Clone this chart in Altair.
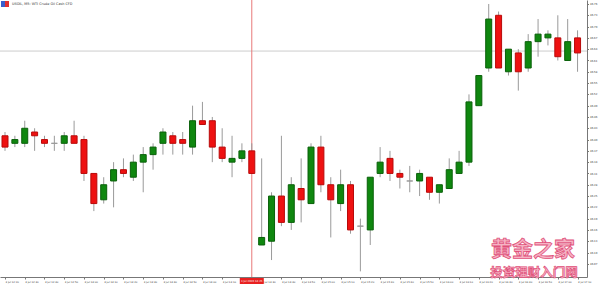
import altair as alt
import pandas as pd

# ---- data (USOIL M5 candles) ----
opens  = [46.41, 46.39, 46.39, 46.42, 46.40, 46.39, 46.39, 46.41, 46.40, 46.31,
          46.24, 46.29, 46.32, 46.30, 46.34, 46.36, 46.39, 46.41, 46.40, 46.38,
          46.45, 46.45, 46.38, 46.34, 46.35, 46.37, 46.12, 46.13, 46.25, 46.18,
          46.27, 46.23, 46.38, 46.28, 46.23, 46.28, 46.17, 46.16, 46.31, 46.35,
          46.31, 46.29, 46.29, 46.30, 46.26, 46.27, 46.31, 46.34, 46.49, 46.59,
          46.73, 46.58, 46.63, 46.59, 46.66, 46.67, 46.67, 46.61, 46.67]
highs  = [46.42, 46.41, 46.45, 46.43, 46.41, 46.41, 46.42, 46.45, 46.41, 46.31,
          46.30, 46.34, 46.35, 46.36, 46.38, 46.39, 46.43, 46.42, 46.42, 46.49,
          46.50, 46.46, 46.43, 46.41, 46.39, 46.39, 46.35, 46.26, 46.41, 46.30,
          46.35, 46.39, 46.41, 46.30, 46.32, 46.29, 46.19, 46.30, 46.38, 46.37,
          46.32, 46.33, 46.32, 46.30, 46.28, 46.35, 46.37, 46.52, 46.57, 46.76,
          46.74, 46.64, 46.64, 46.68, 46.72, 46.69, 46.73, 46.72, 46.69]
lows   = [46.37, 46.38, 46.38, 46.37, 46.38, 46.37, 46.37, 46.39, 46.29, 46.21,
          46.23, 46.22, 46.30, 46.29, 46.26, 46.32, 46.36, 46.36, 46.36, 46.36,
          46.44, 46.34, 46.34, 46.30, 46.34, 46.31, 46.12, 46.08, 46.17, 46.16,
          46.18, 46.23, 46.26, 46.14, 46.21, 46.15, 46.05, 46.12, 46.30, 46.29,
          46.27, 46.26, 46.25, 46.24, 46.23, 46.27, 46.31, 46.33, 46.49, 46.58,
          46.59, 46.57, 46.53, 46.58, 46.62, 46.65, 46.61, 46.61, 46.58]
closes = [46.38, 46.40, 46.43, 46.41, 46.39, 46.39, 46.41, 46.39, 46.31, 46.23,
          46.28, 46.32, 46.31, 46.34, 46.36, 46.38, 46.42, 46.39, 46.39, 46.45,
          46.44, 46.38, 46.35, 46.35, 46.37, 46.31, 46.14, 46.25, 46.18, 46.28,
          46.24, 46.38, 46.28, 46.24, 46.28, 46.16, 46.17, 46.30, 46.34, 46.31,
          46.30, 46.29, 46.31, 46.26, 46.28, 46.32, 46.34, 46.50, 46.57, 46.72,
          46.59, 46.64, 46.58, 46.66, 46.68, 46.68, 46.62, 46.66, 46.63]

time_labels = ["3 Jul 12:20", "3 Jul 12:30", "3 Jul 12:40", "3 Jul 12:50", "3 Jul 13:00",
               "3 Jul 13:10", "3 Jul 13:20", "3 Jul 13:30", "3 Jul 13:40", "3 Jul 13:50",
               "3 Jul 14:00", "3 Jul 14:10", "3 Jul 14:20", "3 Jul 14:30", "3 Jul 14:40",
               "3 Jul 14:50", "3 Jul 15:00", "3 Jul 15:10", "3 Jul 15:20", "3 Jul 15:30",
               "3 Jul 15:40", "3 Jul 15:50", "3 Jul 16:00", "3 Jul 16:10", "3 Jul 16:20",
               "3 Jul 16:30", "3 Jul 16:40", "3 Jul 16:50", "3 Jul 17:00", "3 Jul 17:10"]
time_label_idx = [2 * i for i in range(len(time_labels))]

price_ticks = [46.07, 46.10, 46.13, 46.16, 46.19, 46.22, 46.25, 46.28, 46.31, 46.34,
               46.37, 46.40, 46.43, 46.46, 46.49, 46.52, 46.55, 46.58, 46.61, 46.64,
               46.67, 46.70, 46.73, 46.76]

bid_price = 46.635
marker_idx = 25
marker_text = "3 Jul 2020 14:25"
title_text = "USOIL, M5:  WTI Crude Oil Cash CFD"

n = len(opens)
df = pd.DataFrame({
    "idx": list(range(n)),
    "open": opens, "high": highs, "low": lows, "close": closes,
})
df["dir"] = ["up" if c > o else ("down" if c < o else "flat") for o, c in zip(opens, closes)]

# the axis label hidden under the red marker box is left out
shown_idx = [i for i in time_label_idx if i != marker_idx - 1]

x_scale = alt.Scale(domain=[0, 58.45], nice=False, zero=False)
y_scale = alt.Scale(domain=[46.035, 46.7706], nice=False, zero=False)

label_js = "[" + ",".join("'%s'" % t for t in time_labels) + "]"

x_axis = alt.Axis(values=shown_idx, labelExpr=label_js + "[round(datum.value/2)]",
                  labelAlign="left", labelFontSize=2.5, labelPadding=2, tickSize=2,
                  labelColor="#333", domainColor="#777", tickColor="#777",
                  grid=False, title=None, labelOverlap=False, labelFlush=False,
                  labelFont="DejaVu Sans")
y_axis = alt.Axis(orient="right", values=price_ticks, format=".2f",
                  labelFontSize=2.6, labelPadding=1, tickSize=1.5, labelColor="#333",
                  domainColor="#777", tickColor="#777", grid=False, title=None,
                  labelOverlap=False, labelFlush=False, labelFont="DejaVu Sans")

def XE(field="idx"):
    return alt.X(field + ":Q", scale=x_scale, axis=x_axis)

def YE(field):
    return alt.Y(field + ":Q", scale=y_scale, axis=y_axis)

base = alt.Chart(df)

wicks = base.mark_rule(color="#9a9a9a", strokeWidth=1, clip=True).encode(
    x=XE(), y=YE("low"), y2="high:Q",
)

color_scale = alt.Scale(domain=["up", "down", "flat"], range=["#0f870f", "#ee1111", "#9a9a9a"])
stroke_scale = alt.Scale(domain=["up", "down", "flat"], range=["#0a600a", "#b80a0a", "#9a9a9a"])

bodies = base.mark_bar(size=6, strokeWidth=1, clip=True).encode(
    x=XE(), y=YE("open"), y2="close:Q",
    color=alt.Color("dir:N", scale=color_scale, legend=None),
    stroke=alt.Stroke("dir:N", scale=stroke_scale, legend=None),
)

bid_df = pd.DataFrame({"p": [bid_price]})
bid_line = alt.Chart(bid_df).mark_rule(color="#cccccc", strokeWidth=1).encode(y=YE("p"))

mk_df = pd.DataFrame({"idx": [marker_idx], "t": [marker_text]})
marker_line = alt.Chart(mk_df).mark_rule(color="#e87878", strokeWidth=1).encode(x=XE())
marker_box = alt.Chart(mk_df).mark_bar(width=24, color="#e82020").encode(
    x=XE(), y=alt.value(278), y2=alt.value(284))
marker_lbl = alt.Chart(mk_df).mark_text(fontSize=2.6, color="white", font="DejaVu Sans",
                                        baseline="middle").encode(
    x=XE(), y=alt.value(281), text="t:N")

title_df = pd.DataFrame({"t": [title_text]})
title = alt.Chart(title_df).mark_text(fontSize=3.4, color="#333", align="left",
                                      baseline="middle", font="DejaVu Sans").encode(
    x=alt.value(12), y=alt.value(4), text="t:N")
icon1 = alt.Chart(title_df).mark_rect(color="#3a5fcd").encode(
    x=alt.value(1), x2=alt.value(5), y=alt.value(1), y2=alt.value(7))
icon2 = alt.Chart(title_df).mark_rect(color="#e03030").encode(
    x=alt.value(5), x2=alt.value(9), y=alt.value(1), y2=alt.value(7))

wm_df = pd.DataFrame({"a": ["黄金之家"], "b": ["投资理财入门网"]})
wm1 = alt.Chart(wm_df).mark_text(fontSize=21, font="Noto Sans CJK SC", fontWeight="bold",
                                 color="#f6b3c4", stroke="#e0507a", strokeWidth=0.8,
                                 baseline="middle").encode(
    x=alt.value(533), y=alt.value(250), text="a:N")
wm2 = alt.Chart(wm_df).mark_text(fontSize=12.5, font="Noto Sans CJK SC", fontWeight="bold",
                                 color="#f6b3c4", stroke="#e0507a", strokeWidth=0.7,
                                 baseline="middle").encode(
    x=alt.value(534), y=alt.value(273), text="b:N")

chart = alt.layer(
    bid_line, marker_line, wicks, bodies, marker_box, marker_lbl,
    icon1, icon2, title, wm1, wm2
).properties(
    width=587, height=277,
    padding={"left": 0, "top": 0, "right": 13, "bottom": 8},
    autosize=alt.AutoSizeParams(type="none"),
    background="white",
).configure_view(stroke=None).configure_axis(labelOverlap=False)

chart.save("out.html", embed_options={"renderer": "svg", "actions": False})
